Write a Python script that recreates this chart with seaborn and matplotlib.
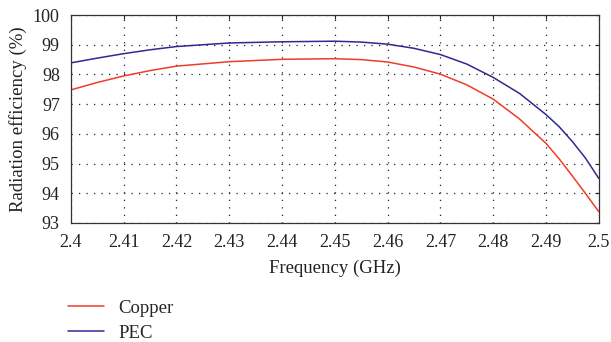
import numpy as np
import pandas as pd
import matplotlib
matplotlib.use("Agg")
import matplotlib.pyplot as plt
import seaborn as sns

freq = [2.400, 2.405, 2.410, 2.415, 2.420, 2.430, 2.440, 2.450, 2.455, 2.460,
        2.465, 2.470, 2.475, 2.480, 2.485, 2.490, 2.4925, 2.495, 2.4975, 2.500]
copper = [97.48, 97.73, 97.95, 98.13, 98.28, 98.43, 98.51, 98.53, 98.50, 98.42,
          98.25, 98.01, 97.65, 97.17, 96.50, 95.68, 95.16, 94.58, 93.99, 93.38]
pec = [98.39, 98.55, 98.70, 98.83, 98.94, 99.06, 99.10, 99.12, 99.09, 99.02,
       98.88, 98.67, 98.35, 97.90, 97.36, 96.65, 96.24, 95.74, 95.18, 94.50]
yticks = [93, 94, 95, 96, 97, 98, 99, 100]
xticks = [2.40, 2.41, 2.42, 2.43, 2.44, 2.45, 2.46, 2.47, 2.48, 2.49, 2.50]
xticklabels = ["2.4", "2.41", "2.42", "2.43", "2.44", "2.45", "2.46", "2.47", "2.48", "2.49", "2.5"]

df = pd.DataFrame({
    "Frequency": freq * 2,
    "Efficiency": copper + pec,
    "Material": ["Copper"] * len(freq) + ["PEC"] * len(freq),
})

sns.set_theme(style="white")
plt.rcParams["font.family"] = ["Liberation Serif", "DejaVu Serif"]

RED = "#f03c28"
BLUE = "#2e2a8f"

fig = plt.figure(figsize=(6.11, 3.42), dpi=100)
ax = fig.add_axes([0.116, 0.348, 0.864, 0.608])
sns.lineplot(data=df, x="Frequency", y="Efficiency", hue="Material",
             palette={"Copper": RED, "PEC": BLUE}, linewidth=1.1,
             ax=ax, legend=False)

ax.set_xlim(2.4, 2.5)
ax.set_ylim(93, 100)
ax.set_xticks(xticks)
ax.set_xticklabels(xticklabels)
ax.set_yticks(yticks)
ax.tick_params(axis="both", labelsize=13, direction="in", length=3, width=0.8,
               top=True, right=True, colors="#222222")
ax.tick_params(axis="x", pad=8)
ax.tick_params(axis="y", pad=8)
ax.grid(True, color="#222222", linestyle=(0, (1, 5)), linewidth=0.9)
for s in ax.spines.values():
    s.set_color("#333333")
    s.set_linewidth(0.9)
ax.set_xlabel("Frequency (GHz)", fontsize=13.5, color="#222222", labelpad=6)
ax.set_ylabel("Radiation efficiency (%)", fontsize=13.5, color="#222222", labelpad=4)

handles = [plt.Line2D([], [], color=RED, lw=1.1),
           plt.Line2D([], [], color=BLUE, lw=1.1)]
fig.legend(handles, ["Copper", "PEC"], loc="upper left", bbox_to_anchor=(0.112, 0.123),
           frameon=False, fontsize=13.5, handlelength=1.9, handletextpad=0.75,
           labelspacing=0.42, borderaxespad=0, borderpad=0)

fig.savefig("out.png", dpi=100)
